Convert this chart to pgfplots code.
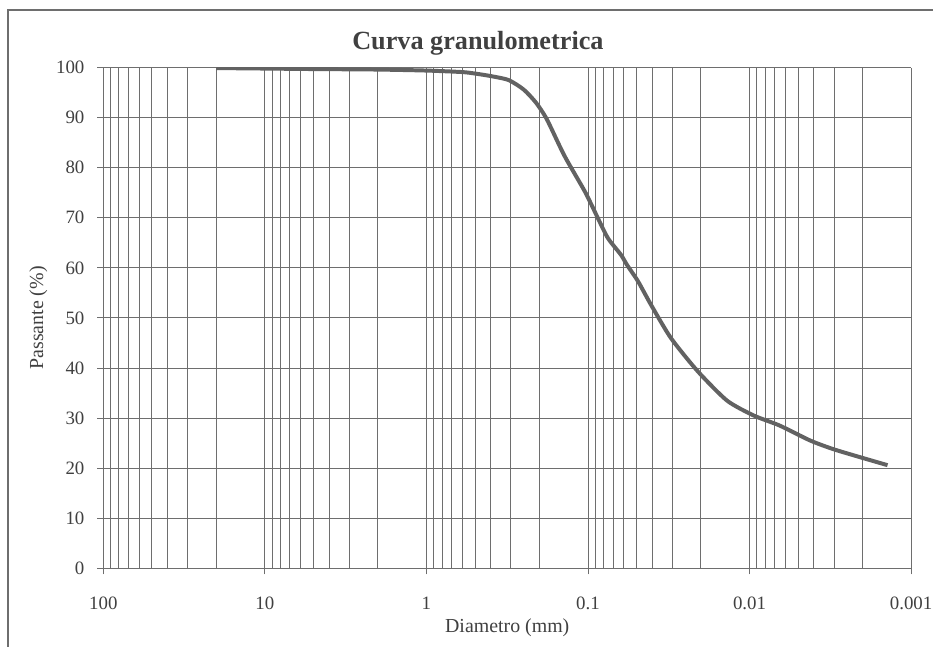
\documentclass[border=0pt]{standalone}
\usepackage{pgfplots}
\pgfplotsset{compat=1.18}
\usepackage{fontspec}
\setmainfont{Liberation Serif}

\definecolor{gridgray}{HTML}{6E6E6E}
\definecolor{curvegray}{HTML}{626262}

\begin{document}
\begin{tikzpicture}
\begin{axis}[
	scale only axis,
	width=406.5pt,
	height=252pt,
	xmode=log,
	x dir=reverse,
	xmin=0.001, xmax=100,
	ymin=0, ymax=100,
	xtick={100,10,1,0.1,0.01,0.001},
	xticklabels={100,10,1,0.1,0.01,0.001},
	minor xtick={90,80,70,60,50,40,30,20,9,8,7,6,5,4,3,2,0.9,0.8,0.7,0.6,0.5,0.4,0.3,0.2,0.09,0.08,0.07,0.06,0.05,0.04,0.03,0.02,0.009,0.008,0.007,0.006,0.005,0.004,0.003,0.002},
	ytick={0,10,...,100},
	xmajorgrids, xminorgrids, ymajorgrids,
	grid style={gridgray, line width=0.5pt},
	minor grid style={gridgray, line width=0.5pt},
	axis line style={gridgray, line width=0.6pt},
	tick style={gridgray, line width=0.5pt},
	tick align=outside,
	major tick length=3pt,
	minor tick length=0pt,
	axis x line*=bottom,
	axis y line*=left,
	tick label style={font=\fontsize{9.5}{11}\selectfont, text=black!75},
	/pgf/number format/assume math mode=true,
	xticklabel style={yshift=-8pt},
	yticklabel style={xshift=-3pt},
	xlabel={Diametro (mm)},
	ylabel={Passante (\%)},
	label style={font=\fontsize{10}{12}\selectfont, text=black!75},
	xlabel style={yshift=2.5pt},
	ylabel style={yshift=-2.5pt},
]
\addplot[curvegray, line width=2pt, smooth, tension=0.4] coordinates {
(20 , 99.9)
(10 , 99.8)
(5 , 99.7)
(2 , 99.6)
(1 , 99.4)
(0.6 , 99.1)
(0.5 , 98.8)
(0.4 , 98.3)
(0.31 , 97.5)
(0.25 , 95.6)
(0.21 , 93.0)
(0.18 , 89.7)
(0.14 , 82.4)
(0.104 , 75.1)
(0.0865 , 69.8)
(0.0752 , 65.9)
(0.0625 , 62.6)
(0.0574 , 60.6)
(0.049 , 57.3)
(0.0407 , 52.6)
(0.0307 , 46.0)
(0.021 , 39.4)
(0.0138 , 33.5)
(0.0094 , 30.5)
(0.0065 , 28.5)
(0.0042 , 25.5)
(0.0029 , 23.6)
(0.0014 , 20.6)
};
\end{axis}
% title and chart-area frame
\node[font=\bfseries\fontsize{13.2}{15}\selectfont, text=black!75] at (188.5pt,264pt) {Curva granulometrica};
\draw[gridgray, line width=0.8pt] (-48pt,-39.5pt) -- (-48pt,281pt) -- (417.5pt,281pt);
\useasboundingbox (-52pt,-39.5pt) rectangle (417.5pt,286pt);
\end{tikzpicture}
\end{document}
